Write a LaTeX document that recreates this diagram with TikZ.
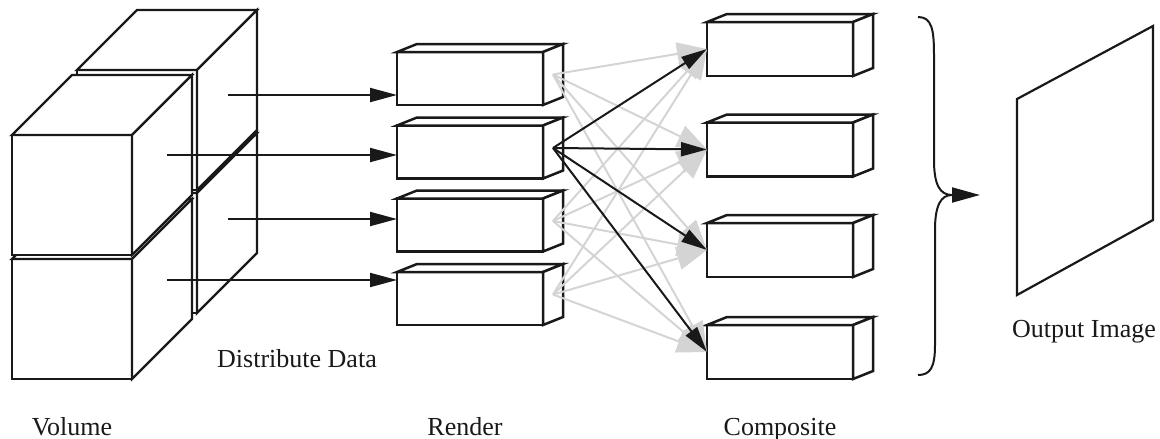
\documentclass[tikz,border=0pt]{standalone}
\usepackage{fontspec}
\setmainfont{Liberation Serif}
\usetikzlibrary{arrows.meta}
\definecolor{fangray}{RGB}{212,212,212}

% oblique cube: front face top-left corner (#1,#2), edge 120, depth 60
\newcommand\volcube[2]{%
  \filldraw[cubeline] (#1,#2) rectangle ++(120,120);
  \filldraw[cubeline] (#1,#2) -- ++(60,-60) -- ++(120,0) -- ++(-60,60) -- cycle;
  \filldraw[cubeline] (#1+120,#2) -- ++(60,-60) -- ++(0,120) -- ++(-60,60) -- cycle;
}
% flat box: name #1, front face top-left (#2,#3), height #4
\newcommand\slab[4]{%
  \filldraw[boxline] (#2,#3) rectangle ++(146,#4);
  \filldraw[boxline] (#2,#3) -- ++(20,-8) -- ++(146,0) -- ++(-20,8) -- cycle;
  \filldraw[boxline] (#2+146,#3) -- ++(20,-8) -- ++(0,#4) -- ++(-20,8) -- cycle;
  \coordinate (#1-in) at (#2,#3+#4/2);
  \coordinate (#1-out) at (#2+156,#3+#4/2-4);
}

\begin{document}
\begin{tikzpicture}[x=1pt,y=-1pt,
  cubeline/.style={draw=black!90,fill=white,line width=2.3pt,line join=miter},
  boxline/.style={draw=black!90,fill=white,line width=2.5pt,line join=miter},
  feed/.style={line width=2pt,black!90,-{Triangle[length=27pt,width=14pt]}},
  fanblack/.style={line width=2pt,black!90,-{Triangle[length=26pt,width=14pt]}},
  fangrey/.style={line width=2pt,fangray,-{Triangle[length=30pt,width=23pt]}},
  lbl/.style={anchor=base,inner sep=0pt,text=black!90,font=\fontsize{26}{30}\selectfont}]
\useasboundingbox (0,0) rectangle (1160,439);

% volume split into four bricks, back ones first
\volcube{77}{193}
\volcube{77}{70}
\volcube{12}{259}
\volcube{12}{135}

% render stage
\slab{r1}{397}{52}{53}
\slab{r2}{397}{125.5}{53}
\slab{r3}{397}{198.5}{53}
\slab{r4}{397}{272}{53}

% composite stage
\slab{c1}{707}{22}{54}
\slab{c2}{707}{122.5}{54}
\slab{c3}{707}{223}{54}
\slab{c4}{707}{325}{54}

% data distribution
\coordinate (v1) at (228,95);
\coordinate (v2) at (167,155);
\coordinate (v3) at (228,219);
\coordinate (v4) at (167,280);
\draw[feed] (v1) -- (v1 -| r1-in);
\draw[feed] (v2) -- (v2 -| r2-in);
\draw[feed] (v3) -- (v3 -| r3-in);
\draw[feed] (v4) -- (v4 -| r4-in);

% all-to-all exchange
\foreach \s in {r1,r3,r4}
  \foreach \t in {c1,c2,c3,c4}
    \draw[fangrey] (\s-out) -- (\t-in);
\foreach \t in {c1,c2,c3,c4}
  \draw[fanblack] (r2-out) -- (\t-in);

% gathering brace
\coordinate (btop) at (918,17);
\coordinate (bbot) at (918,375);
\coordinate (btip) at (952,195);
\coordinate (outin) at (980,195);
\draw[line width=2pt,black!90] (btop) .. controls (932,17) and (934,30) .. (934,55)
  -- (934,160) .. controls (934,185) and (940,195) .. (btip)
  .. controls (941,195) and (935,205) .. (935,230)
  -- (935,345) .. controls (935,368) and (930,375) .. (bbot);
\draw[line width=2pt,black!90,-{Triangle[length=28pt,width=15pt]}] (btip) -- (outin);

% output image
\draw[line width=2.2pt,black!90,line join=miter] (1017,99) -- (1153,26) -- (1153,220) -- (1017,295) -- cycle;

% labels
\node[lbl] (lvol) at (72,435) {Volume};
\node[lbl] (ldist) at (297,367) {Distribute Data};
\node[lbl] (lrend) at (465,435) {Render};
\node[lbl] (lcomp) at (780,435) {Composite};
\node[lbl] (lout) at (1084,337) {Output Image};
\end{tikzpicture}
\end{document}
